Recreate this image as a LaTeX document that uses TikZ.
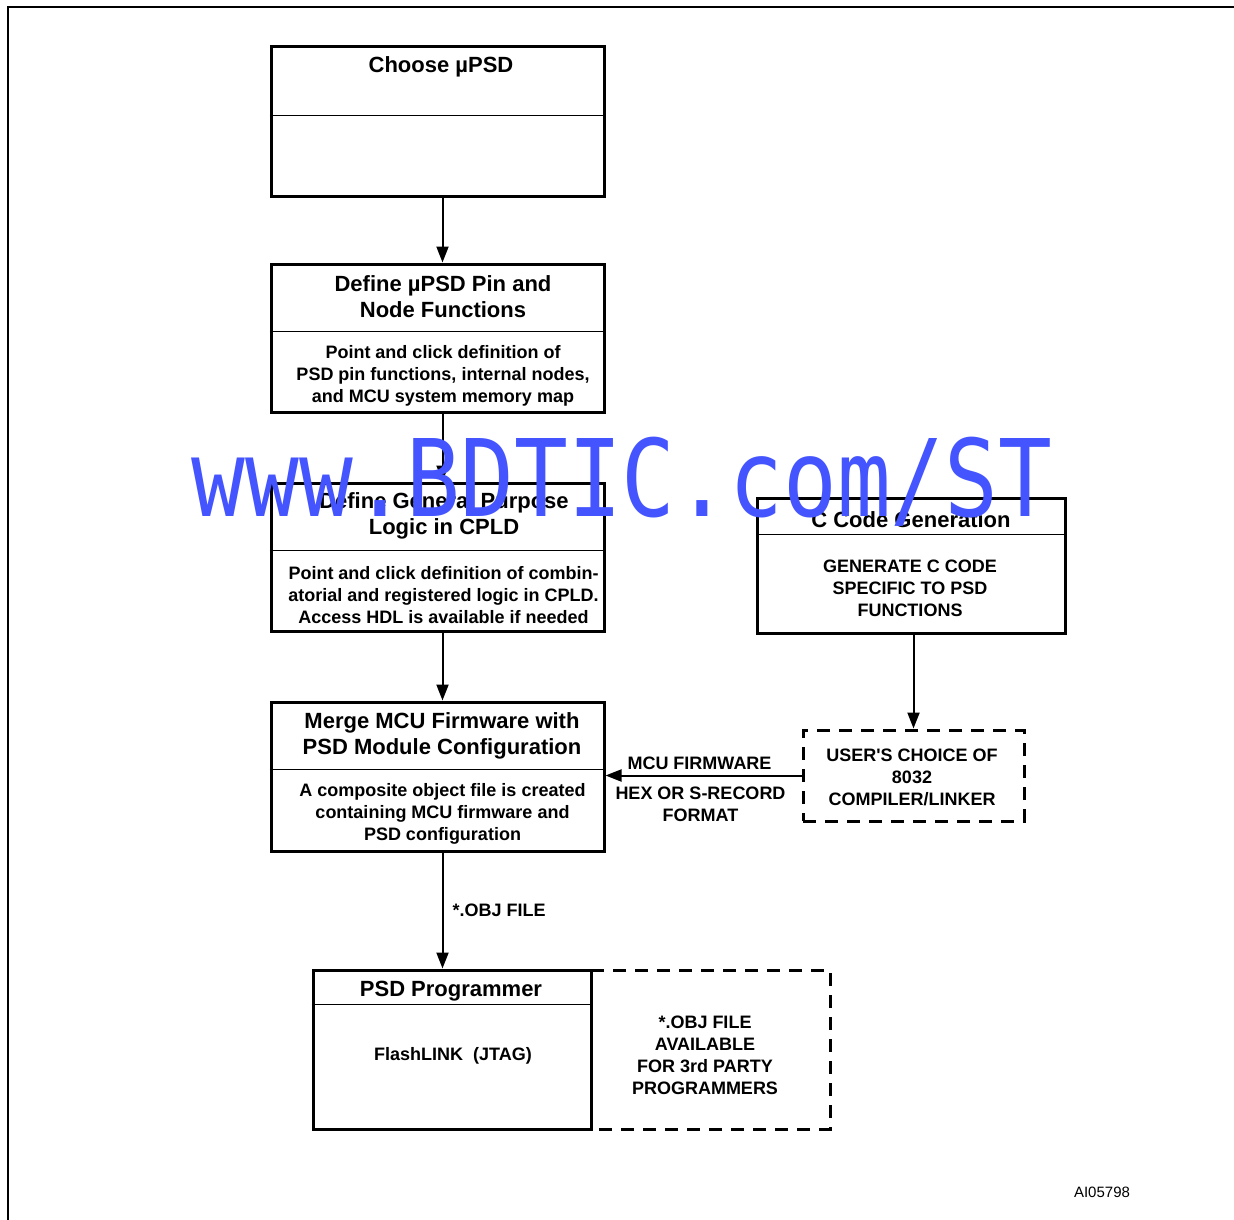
\documentclass[tikz,border=0pt]{standalone}
\usepackage{fontspec}
\setmainfont{Liberation Sans}
\newfontfamily\wmfont{DejaVu Sans Mono}
\usetikzlibrary{positioning, calc, arrows.meta}
\definecolor{watermark}{HTML}{4455FF}

\begin{document}
\begin{tikzpicture}[
    x=1pt, y=-1pt,
    >={Triangle[length=16pt, width=12pt]},
    stage/.style={
        draw,
        line width=3pt,
        inner sep=0pt
    },
    dashbox/.style={stage, dash pattern=on 13pt off 9pt},
    rule/.style={line width=1.8pt},
    flow/.style={->, line width=2pt},
    title/.style={font=\fontsize{22}{26}\selectfont\bfseries, align=center, inner sep=0pt},
    body/.style={font=\fontsize{18}{22}\selectfont\bfseries, align=center, inner sep=0pt}
]

\useasboundingbox (0,0) rectangle (1234,1220);
\draw[line width=2.4pt] (8,1220) -- (8,7) -- (1234,7);

\node[stage, minimum width=333pt, minimum height=149pt] (choose) at (437.5,121.5) {};
\node[stage, minimum width=333pt, minimum height=148pt, below=65pt of choose] (pin) {};
\node[stage, minimum width=333pt, minimum height=148pt, below=68pt of pin] (cpld) {};
\node[stage, minimum width=333pt, minimum height=149pt, below=68pt of cpld] (merge) {};
\node[stage, minimum width=308pt, minimum height=135pt] (ccode) at (911.5,565.5) {};
\node[dashbox, minimum width=221pt, minimum height=91pt] (compiler) at (913.5,775.5) {};
\node[stage, minimum width=278pt, minimum height=159pt] (prog) at (452,1049.5) {};

\draw[rule] ([yshift=-70pt]choose.north west) -- ([yshift=-70pt]choose.north east);
\draw[rule] ([yshift=-69pt]pin.north west) -- ([yshift=-69pt]pin.north east);
\draw[rule] ([yshift=-69pt]cpld.north west) -- ([yshift=-69pt]cpld.north east);
\draw[rule] ([yshift=-38pt]ccode.north west) -- ([yshift=-38pt]ccode.north east);
\draw[rule] ([yshift=-69pt]merge.north west) -- ([yshift=-69pt]merge.north east);
\draw[rule] ([yshift=-36pt]prog.north west) -- ([yshift=-36pt]prog.north east);
\draw[line width=3pt, dash pattern=on 13pt off 9pt] (591,970) -- (830,970) -- (830,1129) -- (591,1129);

\node[title] (chooseT) at (441,67) {Choose µPSD};
\node[title] (pinT) at (443,297) {Define µPSD Pin and\\Node Functions};
\node[body] (pinB) at (443,376) {Point and click definition of\\PSD pin functions, internal nodes,\\and MCU system memory map};
\node[title] (cpldT) at (444,516) {Define General Purpose\\Logic in CPLD};
\node[body] (cpldB) at (443.5,595) {Point and click definition of combin-\\atorial and registered logic in CPLD.\\Access HDL is available if needed};
\node[title] (ccodeT) at (911,520) {C Code Generation};
\node[body] (ccodeB) at (910,588) {GENERATE C CODE\\SPECIFIC TO PSD\\FUNCTIONS};
\node[title] (mergeT) at (442,736) {Merge MCU Firmware with\\PSD Module Configuration};
\node[body] (mergeB) at (442.5,814) {A composite object file is created\\containing MCU firmware and\\PSD configuration};
\node[body] (compilerT) at (912,777) {USER\textquotesingle S CHOICE OF\\8032\\COMPILER/LINKER};
\node[title] (progT) at (451,991) {PSD Programmer};
\node[body] (progB) at (453,1056) {FlashLINK\ \ (JTAG)};
\node[body] (thirdT) at (705,1055) {*.OBJ FILE\\AVAILABLE\\FOR 3rd PARTY\\PROGRAMMERS};
\node[font=\fontsize{15}{18}\selectfont, inner sep=0pt] (figid) at (1102,1192) {AI05798};

\draw[flow] ([xshift=5pt]choose.south) -- ([xshift=5pt]choose.south |- pin.north);
\draw[flow] ([xshift=5pt]pin.south) -- ([xshift=5pt]pin.south |- cpld.north);
\draw[flow] ([xshift=5pt]cpld.south) -- ([xshift=5pt]cpld.south |- merge.north);
\draw[flow] (ccode.south -| compiler.north) -- (compiler.north);
\draw[flow] (compiler.west) -- (compiler.west -| merge.east)
    node[body, midway, above=5pt, xshift=-4pt] (fwT) {MCU FIRMWARE}
    node[body, midway, below=10pt, xshift=-3pt] (fmtT) {HEX OR S-RECORD\\FORMAT};
\draw[flow] ([xshift=5pt]merge.south) -- ([xshift=5pt]merge.south |- prog.north)
    node[body, midway, right=9pt] (objT) {*.OBJ FILE};

\node[font=\wmfont\fontsize{107}{107}\selectfont, text=watermark, xscale=0.835, anchor=base, inner sep=0pt] (wm) at (622,516) {www.BDTIC.com/ST};

\end{tikzpicture}
\end{document}
